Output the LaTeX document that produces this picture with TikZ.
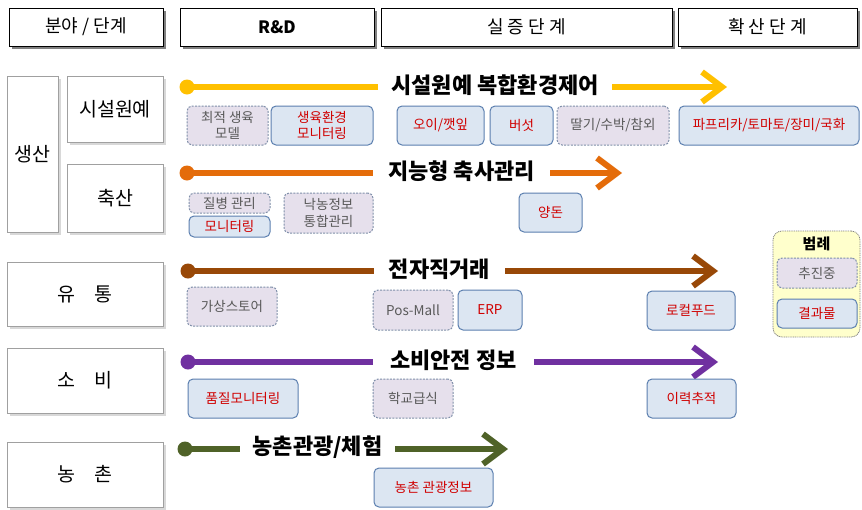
\documentclass[tikz,border=0pt]{standalone}
\usepackage{fontspec}
\setmainfont{Noto Sans CJK KR}
\usetikzlibrary{arrows.meta,shadows}
\definecolor{cyel}{HTML}{FFC000}
\definecolor{corg}{HTML}{E46C0A}
\definecolor{cbrn}{HTML}{984807}
\definecolor{cpur}{HTML}{7030A0}
\definecolor{colv}{HTML}{4F6228}
\definecolor{progfill}{HTML}{E6E0EC}
\definecolor{progdraw}{HTML}{7F8FA9}
\definecolor{progtext}{HTML}{595959}
\definecolor{resfill}{HTML}{DCE6F2}
\definecolor{resdraw}{HTML}{5B7FAF}
\definecolor{restext}{HTML}{D00000}
\definecolor{catdraw}{HTML}{A0A0A0}
\definecolor{catshadow}{HTML}{D8D8D8}
\definecolor{hdrshadow}{HTML}{808080}
\definecolor{legfill}{HTML}{FFFFCC}
\newcommand\bx[7]{\node[#1,minimum width={(#5)-(#3)}, minimum height={(#6)-(#4)}] (#2) at ({((#3)+(#5))/2},{((#4)+(#6))/2}) {#7};}
\tikzset{
  hdr/.style={draw=black, line width=0.9pt, fill=white, inner sep=0pt,
    drop shadow={shadow xshift=3pt, shadow yshift=-3pt, fill=hdrshadow, opacity=1},
    font=\fontsize{18}{20}\selectfont},
  cat/.style={draw=catdraw, line width=1pt, fill=white, inner sep=0pt,
    drop shadow={shadow xshift=3pt, shadow yshift=-3pt, fill=catshadow, opacity=1},
    font=\fontsize{19.5}{22}\selectfont},
  prog/.style={draw=progdraw, line width=1pt, dash pattern=on 2pt off 1.3pt, fill=progfill,
    rounded corners=5pt, inner sep=0pt, text=progtext, align=center,
    font=\fontsize{13.5}{16.5}\selectfont},
  res/.style={draw=resdraw, line width=1pt, fill=resfill,
    rounded corners=5pt, inner sep=0pt, text=restext, align=center,
    font=\fontsize{13.5}{16.5}\selectfont},
  lbl/.style={inner sep=0pt, minimum height=24pt, font=\fontsize{22}{26}\selectfont\bfseries},
  dot/.style={circle, fill=#1, inner sep=0pt, minimum size=15pt},
  bar/.style={draw=#1, line width=6pt},
  arr/.style={draw=#1, line width=6pt, -{Straight Barb[length=20pt,width=30pt,line join=miter]}},
}
\begin{document}
\begin{tikzpicture}[x=1pt,y=-1pt]
\useasboundingbox[fill=white] (0,0) rectangle (862,509);
% headers
\bx{hdr}{h0}{9}{8}{163}{46}{분야 / 단계}
\bx{hdr,font=\fontsize{17}{20}\selectfont\bfseries}{h1}{180}{8}{374}{46}{R\&D}
\bx{hdr}{h2}{381}{8}{672}{46}{실 증 단 계}
\bx{hdr}{h3}{678}{8}{857}{46}{확 산 단 계}
% categories
\bx{cat}{c0}{7}{76}{58}{232}{생산}
\bx{cat}{c1}{67}{76}{163}{142}{시설원예}
\bx{cat}{c2}{67}{164}{163}{232}{축산}
\bx{cat}{c3}{7}{262}{163}{326}{유\quad 통}
\bx{cat}{c4}{7}{348}{163}{413}{소\quad 비}
\bx{cat}{c5}{7}{442}{163}{507}{농\quad 촌}
% row 1
\node[dot=cyel] (d1) at (187,87) {};
\node[lbl, minimum width=234pt] (t1) at (495,85) {시설원예 복합환경제어};
\coordinate (e1) at (727,87);
\draw[bar=cyel] (d1.center) -- (t1.west |- d1);
\draw[arr=cyel] (t1.east |- e1) -- (e1);
\bx{prog}{b11}{187}{106}{268}{145}{최적 생육\\모델}
\bx{res}{b12}{271}{106}{373}{145}{생육환경\\모니터링}
\bx{res}{b13}{397}{106}{484}{145}{오이/깻잎}
\bx{res}{b14}{490}{106}{553}{145}{버섯}
\bx{prog}{b15}{557}{106}{669}{145}{딸기/수박/참외}
\bx{res}{b16}{679}{106}{859}{145}{파프리카/토마토/장미/국화}
% row 2
\node[dot=corg] (d2) at (187,173) {};
\node[lbl, minimum width=177pt] (t2) at (461.5,171) {지능형 축사관리};
\coordinate (e2) at (622,173);
\draw[bar=corg] (d2.center) -- (t2.west |- d2);
\draw[arr=corg] (t2.east |- e2) -- (e2);
\bx{prog}{b21}{189}{193}{270}{213}{질병 관리}
\bx{res}{b22}{189}{216}{270}{237}{모니터링}
\bx{prog}{b23}{284}{193}{373}{233}{낙농정보\\통합관리}
\bx{res}{b24}{519}{193}{582}{232}{양돈}
% legend
\bx{draw=gray, line width=0.8pt, dash pattern=on 1pt off 0.8pt, fill=legfill, rounded corners=9pt}{lg}{773}{231}{860}{337}{}
\node[font=\fontsize{15}{17}\selectfont\bfseries] (lgt) at (816.5,244) {범례};
\bx{prog}{lg1}{777}{258}{857}{288}{추진중}
\bx{res}{lg2}{777}{299}{857}{328}{결과물}
% row 3
\node[dot=cbrn] (d3) at (188,271) {};
\node[lbl, minimum width=131pt] (t3) at (439.5,269) {전자직거래};
\coordinate (e3) at (718,271);
\draw[bar=cbrn] (d3.center) -- (t3.west |- d3);
\draw[arr=cbrn] (t3.east |- e3) -- (e3);
\bx{prog}{b31}{187}{287}{277}{326}{가상스토어}
\bx{prog}{b32}{373}{290}{453}{330}{Pos-Mall}
\bx{res}{b33}{458}{290}{522}{330}{ERP}
\bx{res}{b34}{647}{291}{735}{330}{로컬푸드}
% row 4
\node[dot=cpur] (d4) at (188,362) {};
\node[lbl, minimum width=161pt] (t4) at (453.5,360) {소비안전 정보};
\coordinate (e4) at (718,362);
\draw[bar=cpur] (d4.center) -- (t4.west |- d4);
\draw[arr=cpur] (t4.east |- e4) -- (e4);
\bx{res}{b41}{188}{379}{298}{418}{품질모니터링}
\bx{prog}{b42}{373}{379}{453}{418}{학교급식}
\bx{res}{b43}{647}{379}{736}{418}{이력추적}
% row 5
\node[dot=colv] (d5) at (185,449) {};
\node[lbl, minimum width=155pt] (t5) at (317.5,447) {농촌관광/체험};
\coordinate (e5) at (508,449);
\draw[bar=colv] (d5.center) -- (t5.west |- d5);
\draw[arr=colv] (t5.east |- e5) -- (e5);
\bx{res}{b51}{374}{468}{493}{507}{농촌 관광정보}
\end{tikzpicture}
\end{document}
